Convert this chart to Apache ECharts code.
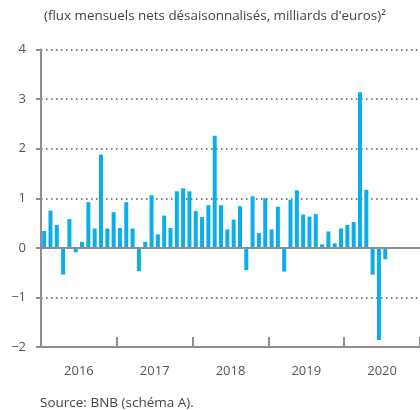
<!DOCTYPE html>
<html>
<head>
<meta charset="utf-8">
<script src="https://cdn.jsdelivr.net/npm/echarts@6/dist/echarts.min.js"></script>
<style>
  html, body { margin: 0; padding: 0; background: #fff; }
  #chart { width: 420px; height: 410px; }
</style>
</head>
<body>
<div id="chart"></div>
<script>
// year labels on the x axis
const years = ["2016", "2017", "2018", "2019", "2020"];

// monthly net flows, seasonally adjusted, billion euros
const flows2016 = [0.34, 0.75, 0.46, -0.54, 0.58, -0.09, 0.12, 0.92, 0.39, 1.88, 0.39, 0.72];
const flows2017 = [0.40, 0.92, 0.39, -0.47, 0.12, 1.06, 0.27, 0.65, 0.40, 1.14, 1.20, 1.14];
const flows2018 = [0.74, 0.62, 0.86, 2.26, 0.86, 0.37, 0.57, 0.84, -0.45, 1.04, 0.30, 1.00];
const flows2019 = [0.37, 0.83, -0.48, 0.97, 1.16, 0.67, 0.63, 0.68, 0.07, 0.33, 0.09, 0.39];
const flows2020 = [0.46, 0.52, 3.14, 1.17, -0.54, -1.86, -0.23];

const yTicks = [-2, -1, 0, 1, 2, 3, 4];

const months = [];
years.forEach((y) => {
  for (let m = 1; m <= 12; m++) months.push(y + "-" + (m < 10 ? "0" + m : m));
});
const flows = [].concat(flows2016, flows2017, flows2018, flows2019, flows2020);

const txt = "#555";
const axisGrey = "#8e8e8e";
const font = "'Open Sans', 'Noto Sans', sans-serif";

const chart = echarts.init(document.getElementById("chart"));
const gridBox = { left: 41, right: -6, top: 49.5, bottom: 63 };

chart.setOption({
  backgroundColor: "#fff",
  animation: false,
  title: {
    text: "(flux mensuels nets désaisonnalisés, milliards d'euros)²",
    left: 39,
    top: 5,
    textStyle: { fontFamily: font, fontSize: 13.4, fontWeight: "normal", color: "#444" },
  },
  graphic: [
    {
      type: "text",
      left: 40,
      top: 396,
      style: { text: "Source: BNB (schéma A).", font: "13.5px " + font, fill: "#444" },
    },
  ],
  grid: [
    Object.assign({}, gridBox),
    Object.assign({}, gridBox),
  ],
  xAxis: [
    {
      gridIndex: 0,
      type: "category",
      data: months,
      position: "bottom",
      axisLine: { onZero: false, lineStyle: { color: axisGrey, width: 2 } },
      axisTick: { show: true, inside: true, length: 10, interval: 11, lineStyle: { color: axisGrey, width: 2 } },
      axisLabel: { show: false },
      splitLine: { show: false },
    },
    {
      gridIndex: 1,
      type: "category",
      data: years,
      position: "bottom",
      axisLine: { show: false },
      axisTick: { show: false },
      axisLabel: { margin: 18, fontFamily: font, fontSize: 13, color: txt },
    },
  ],
  yAxis: [
    {
      gridIndex: 0,
      type: "value",
      min: yTicks[0],
      max: yTicks[yTicks.length - 1],
      interval: 1,
      axisLine: { show: true, lineStyle: { color: axisGrey, width: 2 } },
      axisTick: { show: true, length: 5, lineStyle: { color: axisGrey, width: 2 } },
      axisLabel: {
        margin: 15,
        fontFamily: font,
        fontSize: 13,
        color: txt,
        formatter: (v) => String(v).replace("-", "\u2212"),
      },
      splitLine: { show: true, lineStyle: { color: "#555", width: 1.5, type: [1.5, 3.5] } },
    },
    {
      gridIndex: 1,
      type: "value",
      show: false,
      min: -2,
      max: 4,
    },
  ],
  series: [
    {
      type: "bar",
      xAxisIndex: 0,
      yAxisIndex: 0,
      data: flows,
      barWidth: 4,
      itemStyle: { color: "#0aaeea" },
      markLine: {
        silent: true,
        symbol: "none",
        label: { show: false },
        lineStyle: { color: axisGrey, width: 2, type: "solid" },
        data: [{ yAxis: 0 }],
      },
    },
  ],
});
</script>
</body>
</html>
